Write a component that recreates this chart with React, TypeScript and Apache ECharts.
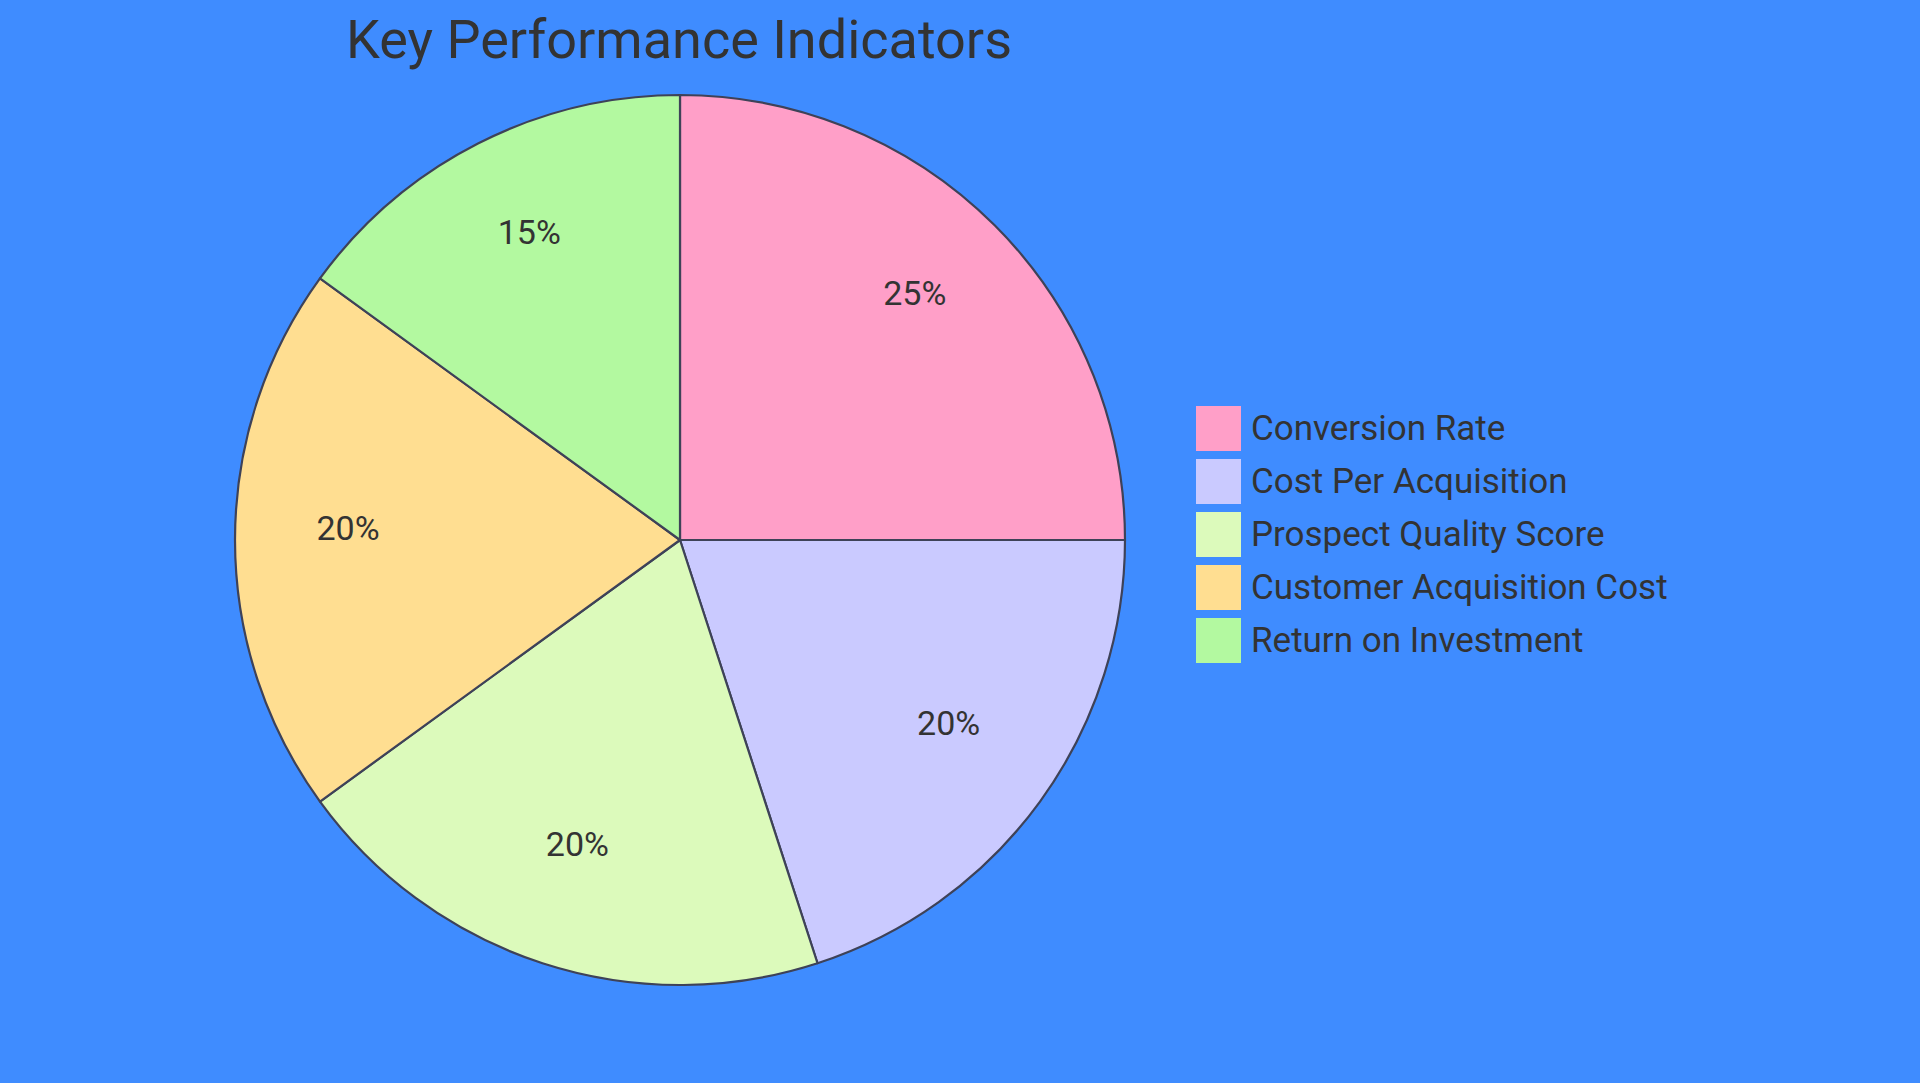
import React, { useEffect, useRef } from 'react';
import * as echarts from 'echarts';

const categories = [
  'Conversion Rate',
  'Cost Per Acquisition',
  'Prospect Quality Score',
  'Customer Acquisition Cost',
  'Return on Investment'
];
const values = [25, 20, 20, 20, 15];
const colors = ['#FF9FC8', '#CACAFF', '#DCFABB', '#FFDE91', '#B3F9A0'];

const FONT = 'Roboto, "Noto Sans", sans-serif';

const App: React.FC = () => {
  const chartRef = useRef<HTMLDivElement>(null);

  useEffect(() => {
    document.body.style.margin = '0';
    if (!chartRef.current) return;
    const chart = echarts.init(chartRef.current, undefined, { renderer: 'svg' });

    const data = categories.map((name, i) => ({
      name,
      value: values[i],
      itemStyle: { color: colors[i] }
    }));

    const option: echarts.EChartsOption = {
      animation: false,
      backgroundColor: '#3F8CFF',
      title: {
        text: 'Key Performance Indicators',
        left: 674,
        top: 7,
        textAlign: 'center',
        textStyle: {
          fontFamily: FONT,
          fontSize: 54,
          fontWeight: 'normal',
          color: '#333333'
        }
      },
      legend: {
        orient: 'vertical',
        left: 1196,
        top: 406,
        padding: 0,
        itemWidth: 45,
        itemHeight: 45,
        itemGap: 8,
        icon: 'rect',
        data: categories,
        itemStyle: { borderWidth: 0 },
        textStyle: {
          fontFamily: FONT,
          fontSize: 35,
          lineHeight: 45,
          color: '#333333',
          padding: [0, 0, 0, 5]
        }
      },
      series: [
        {
          type: 'pie',
          center: [680, 540],
          radius: 445,
          startAngle: 90,
          clockwise: true,
          silent: true,
          label: { show: false },
          labelLine: { show: false },
          itemStyle: { borderColor: '#3E4258', borderWidth: 2.2 },
          data
        },
        {
          // transparent copy that only carries the percentage labels
          type: 'pie',
          center: [680, 528],
          radius: [218, 440],
          startAngle: 90,
          clockwise: true,
          silent: true,
          itemStyle: { color: 'transparent', borderWidth: 0 },
          labelLine: { show: false },
          label: {
            show: true,
            position: 'inside',
            formatter: '{c}%',
            fontFamily: FONT,
            fontSize: 34,
            color: '#333333'
          },
          data: categories.map((name, i) => ({ name, value: values[i] }))
        }
      ]
    };

    chart.setOption(option);
    return () => {
      chart.dispose();
    };
  }, []);

  return <div ref={chartRef} style={{ width: '1920px', height: '1083px' }} />;
};

export default App;
